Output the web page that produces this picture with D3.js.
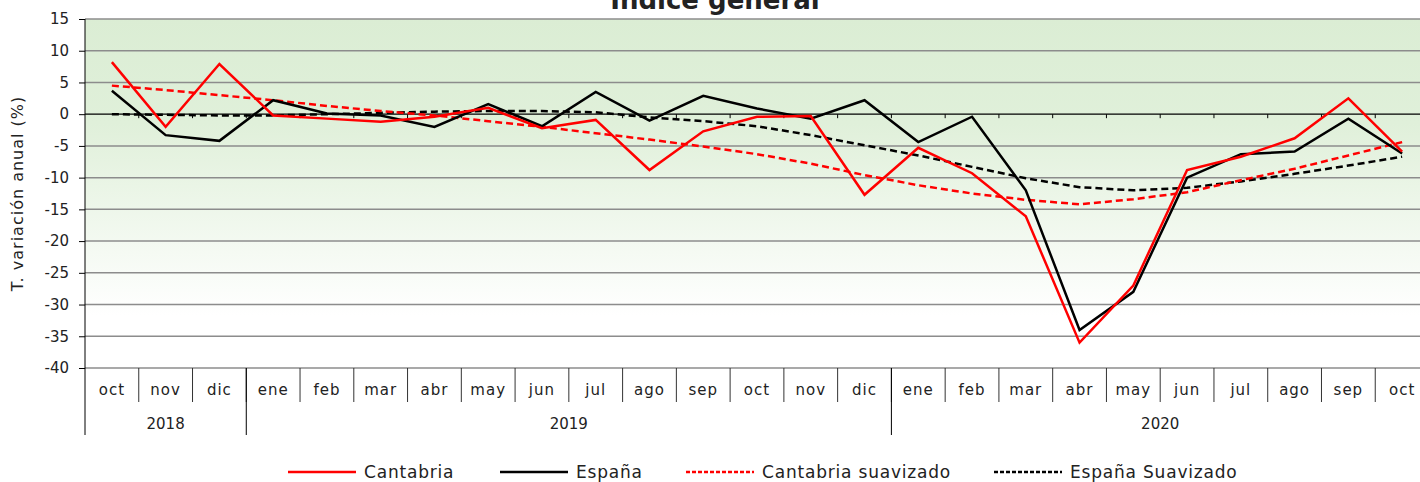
<!DOCTYPE html>
<html lang="es">
<head>
    <meta charset="UTF-8">
    <title>Índice general</title>
    <script src="https://d3js.org/d3.v7.min.js"></script>
    <style>
        body { margin: 0; background: #fff; }
        svg { display: block; }
        text { font-family: "DejaVu Sans", "Noto Sans", sans-serif; fill: #222; }
    </style>
</head>
<body>
    <svg id="chart" width="1420" height="482"></svg>

    <script>
        // data
        const months = ["oct", "nov", "dic", "ene", "feb", "mar", "abr", "may", "jun", "jul", "ago", "sep",
                        "oct", "nov", "dic", "ene", "feb", "mar", "abr", "may", "jun", "jul", "ago", "sep", "oct"];
        const years = [
            { label: "2018", start: 0, end: 3 },
            { label: "2019", start: 3, end: 15 },
            { label: "2020", start: 15, end: 25 }
        ];
        const cantabria = [8.2, -2.0, 7.9, -0.2, -0.7, -1.2, -0.4, 1.0, -2.2, -0.9, -8.8, -2.7,
                           -0.4, -0.3, -12.7, -5.3, -9.3, -16.1, -36.0, -27.0, -8.8, -6.7, -3.8, 2.5, -5.9];
        const espana = [3.7, -3.3, -4.2, 2.2, 0.1, -0.2, -2.0, 1.6, -1.9, 3.5, -1.0, 2.9,
                        0.9, -0.7, 2.2, -4.4, -0.4, -12.0, -34.0, -28.0, -10.0, -6.3, -5.9, -0.7, -6.2];
        const cantabriaSuav = [4.5, 3.8, 3.0, 2.2, 1.3, 0.5, -0.2, -1.1, -2.0, -3.0, -4.0, -5.1,
                               -6.3, -7.8, -9.6, -11.2, -12.5, -13.5, -14.2, -13.4, -12.3, -10.4, -8.6, -6.5, -4.4];
        const espanaSuav = [0.0, -0.1, -0.2, -0.2, 0.0, 0.2, 0.4, 0.5, 0.5, 0.3, -0.5, -1.1,
                            -1.9, -3.3, -4.9, -6.5, -8.3, -10.1, -11.5, -12.0, -11.6, -10.6, -9.4, -8.1, -6.7];
        const yTicks = [15, 10, 5, 0, -5, -10, -15, -20, -25, -30, -35, -40];

        const series = [
            { name: "Cantabria", values: cantabria, color: "#ff0000", dash: null },
            { name: "España", values: espana, color: "#000000", dash: null },
            { name: "Cantabria suavizado", values: cantabriaSuav, color: "#ff0000", dash: "7,4" },
            { name: "España Suavizado", values: espanaSuav, color: "#000000", dash: "7,4" }
        ];

        const svg = d3.select("#chart");
        const plotLeft = 85, plotRight = 1429, plotTop = 19, plotBottom = 368;

        const x = d3.scaleBand().domain(d3.range(months.length)).range([plotLeft, plotRight]);
        const y = d3.scaleLinear().domain([-40, 15]).range([plotBottom, plotTop]);
        const bx = i => plotLeft + x.step() * i;   // band boundary

        // background gradient
        const grad = svg.append("defs").append("linearGradient")
            .attr("id", "bg").attr("x1", 0).attr("y1", 0).attr("x2", 0).attr("y2", 1);
        grad.append("stop").attr("offset", "0%").attr("stop-color", "#dbedd4");
        grad.append("stop").attr("offset", "30%").attr("stop-color", "#e0f0da");
        grad.append("stop").attr("offset", "85%").attr("stop-color", "#ffffff");
        svg.append("rect").attr("x", plotLeft).attr("y", plotTop)
            .attr("width", plotRight - plotLeft).attr("height", plotBottom - plotTop)
            .attr("fill", "url(#bg)");

        // gridlines
        svg.append("g").selectAll("line").data(yTicks.filter(d => d !== 0)).enter().append("line")
            .attr("x1", plotLeft).attr("x2", plotRight)
            .attr("y1", d => y(d)).attr("y2", d => y(d))
            .attr("stroke", "#8c8c8c").attr("stroke-width", 1.5);

        // y axis (plain hyphen for negatives, like the original)
        const yAxis = svg.append("g").attr("transform", `translate(${plotLeft},0)`)
            .call(d3.axisLeft(y).tickValues(yTicks).tickFormat(d => String(d)).tickSize(6).tickPadding(10));
        yAxis.selectAll(".domain").remove();
        yAxis.selectAll("text").style("font-size", "15px").attr("fill", "#222");
        svg.append("line").attr("x1", plotLeft).attr("x2", plotLeft).attr("y1", plotTop).attr("y2", 435)
            .attr("stroke", "#000").attr("stroke-width", 1);

        svg.append("text")
            .attr("transform", `translate(23,${(plotTop + plotBottom) / 2}) rotate(-90)`)
            .attr("text-anchor", "middle")
            .style("font-size", "16px").style("letter-spacing", "1px")
            .text("T. variación anual (%)");

        // zero line with ticks
        svg.append("line").attr("x1", plotLeft).attr("x2", plotRight)
            .attr("y1", y(0)).attr("y2", y(0)).attr("stroke", "#000").attr("stroke-width", 1.2);
        svg.append("g").selectAll("line").data(d3.range(1, months.length)).enter().append("line")
            .attr("x1", d => bx(d)).attr("x2", d => bx(d))
            .attr("y1", y(0)).attr("y2", y(0) + 4)
            .attr("stroke", "#000");

        // category axis: months
        svg.append("g").selectAll("line").data(d3.range(1, months.length + 1)).enter().append("line")
            .attr("x1", d => bx(d)).attr("x2", d => bx(d))
            .attr("y1", plotBottom).attr("y2", 402)
            .attr("stroke", "#333");
        svg.append("g").selectAll("text").data(months).enter().append("text")
            .attr("x", (d, i) => x(i) + x.bandwidth() / 2).attr("y", 395)
            .attr("text-anchor", "middle")
            .style("font-size", "15px").style("letter-spacing", "1px")
            .text(d => d);

        // years
        svg.append("g").selectAll("line").data(years).enter().append("line")
            .attr("x1", d => bx(d.end)).attr("x2", d => bx(d.end))
            .attr("y1", plotBottom).attr("y2", 435)
            .attr("stroke", "#000");
        svg.append("g").selectAll("text").data(years).enter().append("text")
            .attr("x", d => (bx(d.start) + bx(d.end)) / 2).attr("y", 429)
            .attr("text-anchor", "middle")
            .style("font-size", "15px")
            .text(d => d.label);

        // lines
        const line = d3.line().x((d, i) => x(i) + x.bandwidth() / 2).y(d => y(d));
        svg.append("g").selectAll("path").data(series.slice().reverse()).enter().append("path")
            .attr("d", d => line(d.values))
            .attr("fill", "none")
            .attr("stroke", d => d.color)
            .attr("stroke-width", 2.5)
            .attr("stroke-dasharray", d => d.dash)
            .attr("stroke-linejoin", "miter");

        // title (mostly cut off at the top)
        svg.append("text").attr("x", 715).attr("y", 9)
            .attr("text-anchor", "middle")
            .style("font-size", "26px").style("font-weight", "bold").attr("fill", "#000")
            .text("Índice general");

        // legend
        const legendX = [288, 500, 686, 994];
        const legend = svg.append("g").selectAll("g").data(series).enter().append("g")
            .attr("transform", (d, i) => `translate(${legendX[i]},472)`);
        legend.append("line").attr("x1", 0).attr("x2", 68)
            .attr("stroke", d => d.color).attr("stroke-width", 2.5)
            .attr("stroke-dasharray", d => d.dash ? "4,2" : null);
        legend.append("text").attr("x", 76).attr("y", 6)
            .style("font-size", "17px").style("letter-spacing", "0.8px")
            .text(d => d.name);
    </script>
</body>
</html>
